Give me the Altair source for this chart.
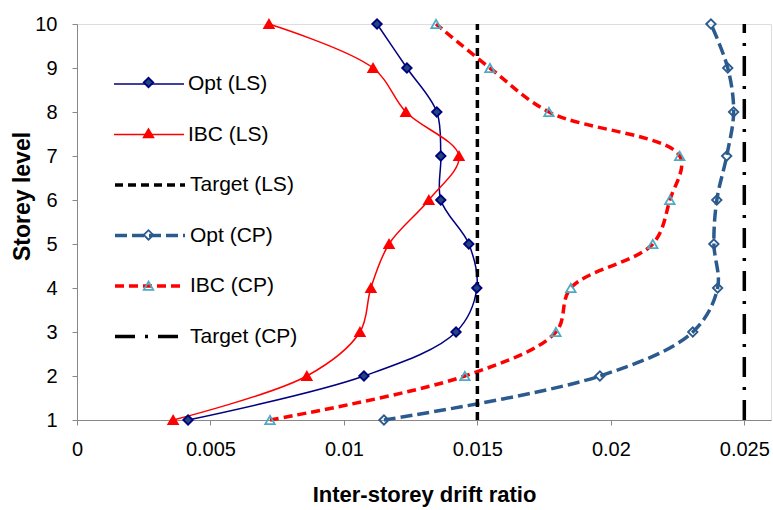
import altair as alt
import pandas as pd

storeys = [1, 2, 3, 4, 5, 6, 7, 8, 9, 10]
opt_ls = [0.00416, 0.01075, 0.0142, 0.01498, 0.01468, 0.01363, 0.01363, 0.01348, 0.01236, 0.01124]
ibc_ls = [0.0036, 0.00861, 0.0106, 0.01101, 0.01169, 0.01318, 0.01431, 0.01232, 0.01109, 0.00719]
opt_cp = [0.0115, 0.01959, 0.02307, 0.024, 0.02386, 0.02397, 0.02434, 0.0246, 0.02438, 0.02375]
ibc_cp = [0.00723, 0.01453, 0.01794, 0.0185, 0.02157, 0.02221, 0.02258, 0.01768, 0.01547, 0.01345]
target_ls = 0.015
target_cp = 0.025
target_storeys = [1, 10]

series_names = ["Opt (LS)", "IBC (LS)", "Target (LS)", "Opt (CP)", "IBC (CP)", "Target (CP)"]
thin_names = series_names[:2]
thick_names = series_names[2:]
marker_names = [n + " m" for n in series_names]

rows = []
for name, vals in [("Opt (LS)", opt_ls), ("IBC (LS)", ibc_ls), ("Opt (CP)", opt_cp), ("IBC (CP)", ibc_cp)]:
    for s, v in zip(storeys, vals):
        rows.append({"series": name, "marker": name + " m", "storey": s, "drift": v})
for name, v in [("Target (LS)", target_ls), ("Target (CP)", target_cp)]:
    for s in target_storeys:
        rows.append({"series": name, "marker": name + " m", "storey": s, "drift": v})
df = pd.DataFrame(rows)

FONT = "Liberation Sans"

x_enc = alt.X("drift:Q", scale=alt.Scale(domain=[0, 0.026], nice=False),
              axis=alt.Axis(values=[0, 0.005, 0.01, 0.015, 0.02, 0.025], format="~g",
                            title="Inter-storey drift ratio", grid=False,
                            labelFontSize=20, labelPadding=14, tickSize=5,
                            titleFontSize=22, titleFontWeight="bold",
                            titlePadding=25, labelFlush=False))
y_enc = alt.Y("storey:Q", scale=alt.Scale(domain=[1, 10], nice=False, zero=False),
              axis=alt.Axis(values=storeys, title="Storey level", grid=False,
                            labelFontSize=20, labelPadding=15, tickSize=5,
                            titleFontSize=23, titleFontWeight="bold",
                            titleX=-43, titleY=172, labelFlush=False))

legend_common = dict(orient="none", title=None, symbolType="M-1.4,0H1.4", symbolSize=2500,
                     labelFontSize=21, labelFont=FONT, labelOffset=13,
                     padding=0, labelColor="#000000")

thin_lines = alt.Chart(df).transform_filter(
    alt.FieldOneOfPredicate(field="series", oneOf=thin_names)
).mark_line(interpolate="catmull-rom", strokeWidth=1.5).encode(
    x=x_enc,
    y=y_enc,
    order="storey:Q",
    color=alt.Color("series:N", scale=alt.Scale(domain=thin_names, range=["#000080", "#FF0000"]),
                    legend=alt.Legend(legendX=46, legendY=34, symbolStrokeWidth=1.5,
                                      rowPadding=14.5, **legend_common)),
)

thick_lines = alt.Chart(df).transform_filter(
    alt.FieldOneOfPredicate(field="series", oneOf=thick_names)
).mark_line(interpolate="catmull-rom", strokeWidth=3.5).encode(
    x="drift:Q",
    y="storey:Q",
    order="storey:Q",
    stroke=alt.Stroke("series:N", scale=alt.Scale(domain=thick_names,
                                                  range=["#000000", "#2B5B8E", "#FF0000", "#000000"]),
                      legend=alt.Legend(legendX=46, legendY=134, symbolStrokeWidth=3.5,
                                        rowPadding=13.5, **legend_common)),
    strokeDash=alt.StrokeDash("series:N", scale=alt.Scale(domain=thick_names,
                                                          range=[[8, 5], [12, 5], [9, 5], [20, 10, 3, 10]])),
)

marker_shapes = ["diamond", "triangle-up", "circle", "diamond", "triangle-up", "circle"]
marker_fills = ["#1F497D", "#FF0000", "transparent", "transparent", "transparent", "transparent"]
marker_strokes = ["#000080", "#FF0000", "transparent", "#2B5B8E", "#4BACC6", "transparent"]

pts = alt.Chart(df).transform_filter(
    alt.FieldOneOfPredicate(field="series", oneOf=["Opt (LS)", "IBC (LS)", "Opt (CP)", "IBC (CP)"])
).mark_point(filled=True, size=90, strokeWidth=1.8, opacity=1).encode(
    x="drift:Q",
    y="storey:Q",
    shape=alt.Shape("marker:N", scale=alt.Scale(domain=marker_names, range=marker_shapes),
                    legend=alt.Legend(orient="none", legendX=63, legendY=50, title=None,
                                      labelExpr="''", labelFontSize=17, rowPadding=32.8,
                                      padding=0, symbolSize=90, symbolStrokeWidth=1.8)),
    fill=alt.Fill("marker:N", scale=alt.Scale(domain=marker_names, range=marker_fills)),
    stroke=alt.Stroke("marker:N", scale=alt.Scale(domain=marker_names, range=marker_strokes)),
)

chart = alt.layer(thin_lines, thick_lines, pts).resolve_scale(
    stroke="independent", strokeDash="independent", shape="independent", fill="independent"
).properties(
    width=694, height=396,
    autosize=alt.AutoSizeParams(type="none"),
    padding={"left": 77, "top": 24, "right": 2, "bottom": 90},
).configure_view(stroke=None).configure_axis(
    labelFont=FONT, titleFont=FONT, domainColor="#000000", tickColor="#000000",
    labelColor="#000000", titleColor="#000000", domainWidth=1.5, tickWidth=1.5
).configure(background="white")

chart.save("out.html", embed_options={"renderer": "svg", "actions": False})
